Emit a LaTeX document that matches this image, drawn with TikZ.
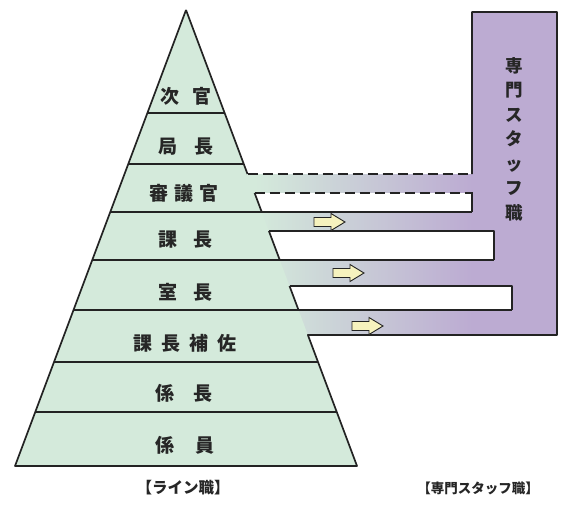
\documentclass[tikz,border=0pt]{standalone}
\usepackage{fontspec}
\newfontfamily\jp{Noto Sans CJK JP}
\definecolor{linegreen}{RGB}{212,234,219}
\definecolor{staffpurple}{RGB}{188,171,210}
\definecolor{arrowfill}{RGB}{246,242,190}
\definecolor{ink}{RGB}{35,35,35}
\definecolor{txt}{RGB}{38,38,38}
\begin{document}
\begin{tikzpicture}[x=1pt,y=-1pt,
  outline/.style={draw=ink,line width=1.7pt,line join=round},
  dashline/.style={draw=ink,line width=1.7pt,dash pattern=on 10pt off 5pt},
  rowlabel/.style={inner sep=0pt,text=txt,font=\jp\bfseries\fontsize{19}{19}\selectfont},
  footlabel/.style={inner sep=0pt,text=txt,font=\jp\bfseries\fontsize{15.5}{15.5}\selectfont},
  blockarr/.pic={\draw[draw=ink,line width=0.9pt,fill=arrowfill,line join=miter]
     (0,-4.5) -- (17,-4.5) -- (17,-8.5) -- (31,0) -- (17,8.5) -- (17,4.5) -- (0,4.5) -- cycle;}
]
\useasboundingbox (0,0) rectangle (575,506);
% key points
\coordinate (apex) at (186,10);
\coordinate (bl) at (15,466);
\coordinate (br) at (357,466);
% staff region
\fill[staffpurple] (472,12) rectangle (557,335);
\shade[left color=linegreen,right color=staffpurple] (255,174) rectangle (472,335);
% line pyramid
\fill[linegreen] (apex) -- (bl) -- (br) -- cycle;
\fill[linegreen] (247.5,174) rectangle (255.5,193);
% white gaps
\fill[white] (254.6,193) -- (472,193) -- (472,212) -- (261.75,212) -- cycle;
\fill[white] (268.9,231) -- (494,231) -- (494,260) -- (279.75,260) -- cycle;
\fill[white] (289.5,286) -- (512,286) -- (512,310) -- (298.5,310) -- cycle;
% outline
\draw[outline] (apex) -- (247.5,174);
\draw[dashline] (247.5,174) -- (472,174);
\draw[outline] (472,174) -- (472,12) -- (557,12) -- (557,335) -- (307.9,335) -- (br) -- (bl) -- (apex);
% gap boxes
\draw[dashline] (254.6,193) -- (472,193);
\draw[outline] (254.6,193) -- (261.75,212);
\draw[outline] (472,192.2) -- (472,212);
\draw[outline] (268.9,231) -- (494,231) -- (494,260);
\draw[outline] (268.9,231) -- (279.75,260);
\draw[outline] (289.5,286) -- (512,286) -- (512,310);
\draw[outline] (289.5,286) -- (298.5,310);
% division lines
\draw[outline] (147.4,113) -- (224.6,113);
\draw[outline] (128.25,164) -- (243.75,164);
\draw[outline] (110.25,212) -- (472,212);
\draw[outline] (92.25,260) -- (494,260);
\draw[outline] (73.5,310) -- (512,310);
\draw[outline] (54,362) -- (318,362);
\draw[outline] (35.25,412) -- (336.75,412);
% arrows
\pic at (314,222) {blockarr};
\pic at (333,273) {blockarr};
\pic at (352,326) {blockarr};
% row labels
\node[rowlabel] (r1) at (186,96) {次\hspace{14pt}官};
\node[rowlabel] (r2) at (186,147) {局\hspace{18pt}長};
\node[rowlabel] (r3) at (184,193) {審\hspace{6pt}議\hspace{6pt}官};
\node[rowlabel] (r4) at (185,240) {課\hspace{16pt}長};
\node[rowlabel] (r5) at (185,292) {室\hspace{16pt}長};
\node[rowlabel] (r6) at (185,343) {課\hspace{9pt}長\hspace{9pt}補\hspace{9pt}佐};
\node[rowlabel] (r7) at (184,393) {係\hspace{19pt}長};
\node[rowlabel] (r8) at (185,445) {係\hspace{21pt}員};
% staff vertical label
\node[inner sep=0pt,text=txt,align=center,font=\jp\bfseries\fontsize{17.5}{24.5}\selectfont] (staff) at (514,139)
  {専\\門\\ス\\タ\\ッ\\フ\\職};
% footer labels
\node[footlabel] (f1) at (183,488) {【ライン職】};
\node[footlabel,font=\jp\bfseries\fontsize{13.5}{13.5}\selectfont] (f2) at (478,488) {【専門スタッフ職】};
\end{tikzpicture}
\end{document}
